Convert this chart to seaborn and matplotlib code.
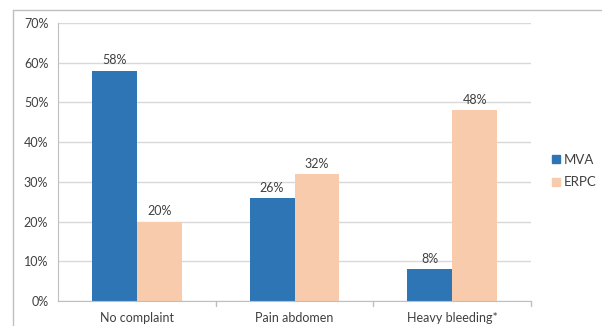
import matplotlib
matplotlib.use('Agg')
import matplotlib.pyplot as plt
from matplotlib.lines import Line2D
from matplotlib.ticker import FuncFormatter
import pandas as pd
import seaborn as sns

# Values
categories = ['No complaint', 'Pain abdomen', 'Heavy bleeding*']
mva = [58, 26, 8]
erpc = [20, 32, 48]
series = ['MVA', 'ERPC']
colors = ['#2E75B6', '#F8CBAD']

df = pd.DataFrame({
    'category': categories * 2,
    'group': ['MVA'] * 3 + ['ERPC'] * 3,
    'value': mva + erpc,
})

sns.set_style('white')
plt.rcParams['font.family'] = ['Lato', 'DejaVu Sans']
txt = '#404040'

fig = plt.figure(figsize=(6.02, 3.26), dpi=100)
ax = fig.add_axes([58/602, 1 - 301/326, (531 - 58)/602, (301 - 23)/326])

sns.barplot(data=df, x='category', y='value', hue='group', hue_order=series,
            palette=colors, width=0.57, gap=0, saturation=1, ax=ax,
            legend=False, linewidth=0)

for c in ax.containers:
    ax.bar_label(c, fmt='%d%%', padding=3, fontsize=9, color=txt)

ax.set_ylim(0, 70)
ax.set_yticks(range(0, 71, 10))
ax.yaxis.set_major_formatter(FuncFormatter(lambda v, p: '%d%%' % v))
ax.set_xlim(-0.5, 2.5)
ax.set_xlabel('')
ax.set_ylabel('')
ax.yaxis.grid(True, color='#d9d9d9', lw=1)
ax.set_axisbelow(True)
for s in ['top', 'right']:
    ax.spines[s].set_visible(False)
for s in ['left', 'bottom']:
    ax.spines[s].set_color('#bfbfbf')
ax.tick_params(axis='y', length=3, color='#bfbfbf', labelsize=9, labelcolor=txt, pad=4)
ax.tick_params(axis='x', length=0, labelsize=9, labelcolor=txt, pad=8)
ax.set_xticks(range(len(categories)))
ax.set_xticklabels(categories)
# category boundary tick marks
for b in [0.5, 1.5, 2.5]:
    ax.plot([b, b], [0, -1.3], color='#bfbfbf', lw=1, clip_on=False)

handles = [Line2D([], [], marker='s', ls='', color=c, markersize=6) for c in colors]
fig.legend(handles, series, loc='center left', bbox_to_anchor=(548/602, 1 - 171/326),
           frameon=False, fontsize=9.5, handletextpad=0.0, labelspacing=0.8,
           handlelength=1.2, borderpad=0, borderaxespad=0, labelcolor=txt)

# outer frame of the chart area
fig.add_artist(Line2D([13/602, 13/602], [0, 1 - 10/326], color='#bfbfbf', lw=1,
                      transform=fig.transFigure))
fig.add_artist(Line2D([13/602, 1], [1 - 10/326, 1 - 10/326], color='#bfbfbf', lw=1,
                      transform=fig.transFigure))

fig.savefig('out.png', dpi=100)
